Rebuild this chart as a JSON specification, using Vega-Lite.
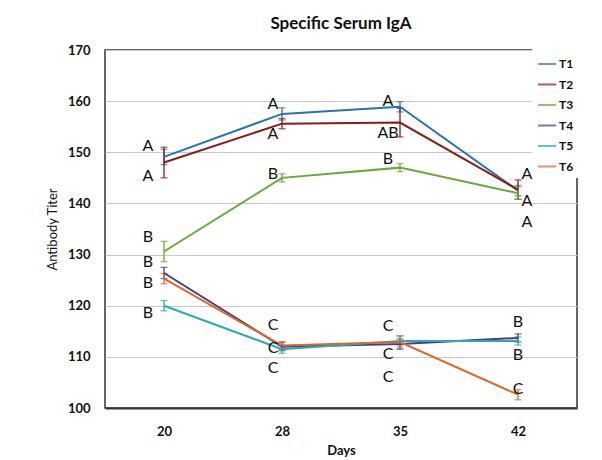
{
  "$schema": "https://vega.github.io/schema/vega-lite/v6.json",
  "autosize": "none",
  "width": 472,
  "height": 358,
  "padding": {"left": 105, "top": 50, "right": 25, "bottom": 52},
  "background": "white",
  "title": {"text": "Specific Serum IgA", "font": "Lato", "fontSize": 17, "fontWeight": "bold", "color": "#111", "anchor": "middle", "offset": 11},
  "config": {
    "view": {"stroke": "#333", "strokeWidth": 1.5},
    "font": "Lato"
  },
  "datasets": {
    "series": [
      {"series": "T1", "day": 20, "value": 149.1, "err": 1.5},
      {"series": "T1", "day": 28, "value": 157.5, "err": 1.2},
      {"series": "T1", "day": 35, "value": 158.9, "err": 1.0},
      {"series": "T1", "day": 42, "value": 142.5, "err": 1.0},
      {"series": "T2", "day": 20, "value": 148.0, "err": 3.0},
      {"series": "T2", "day": 28, "value": 155.6, "err": 1.0},
      {"series": "T2", "day": 35, "value": 155.8, "err": 2.8},
      {"series": "T2", "day": 42, "value": 142.7, "err": 1.9},
      {"series": "T3", "day": 20, "value": 130.6, "err": 2.0},
      {"series": "T3", "day": 28, "value": 145.0, "err": 0.8},
      {"series": "T3", "day": 35, "value": 147.0, "err": 0.8},
      {"series": "T3", "day": 42, "value": 142.0, "err": 1.2},
      {"series": "T4", "day": 20, "value": 126.4, "err": 1.1},
      {"series": "T4", "day": 28, "value": 112.0, "err": 0.8},
      {"series": "T4", "day": 35, "value": 112.5, "err": 1.0},
      {"series": "T4", "day": 42, "value": 113.7, "err": 0.8},
      {"series": "T5", "day": 20, "value": 120.0, "err": 1.0},
      {"series": "T5", "day": 28, "value": 111.5, "err": 0.8},
      {"series": "T5", "day": 35, "value": 113.1, "err": 1.0},
      {"series": "T5", "day": 42, "value": 113.1, "err": 0.8},
      {"series": "T6", "day": 20, "value": 125.3, "err": 1.0},
      {"series": "T6", "day": 28, "value": 112.2, "err": 0.8},
      {"series": "T6", "day": 35, "value": 112.9, "err": 1.2},
      {"series": "T6", "day": 42, "value": 102.6, "err": 1.0}
    ],
    "labels": [
      {"day": 20, "pos": 151.3, "label": "A"},
      {"day": 20, "pos": 145.3, "label": "A"},
      {"day": 20, "pos": 133.5, "label": "B"},
      {"day": 20, "pos": 128.5, "label": "B"},
      {"day": 20, "pos": 124.4, "label": "B"},
      {"day": 20, "pos": 118.5, "label": "B"},
      {"day": 28, "pos": 159.5, "label": "A"},
      {"day": 28, "pos": 153.6, "label": "A"},
      {"day": 28, "pos": 145.8, "label": "B"},
      {"day": 28, "pos": 116.2, "label": "C"},
      {"day": 28, "pos": 111.7, "label": "C"},
      {"day": 28, "pos": 107.8, "label": "C"},
      {"day": 35, "pos": 160.1, "label": "A"},
      {"day": 35, "pos": 153.8, "label": "AB"},
      {"day": 35, "pos": 148.6, "label": "B"},
      {"day": 35, "pos": 116.0, "label": "C"},
      {"day": 35, "pos": 110.5, "label": "C"},
      {"day": 35, "pos": 106.0, "label": "C"},
      {"day": 42, "pos": 145.8, "label": "A"},
      {"day": 42, "pos": 140.4, "label": "A"},
      {"day": 42, "pos": 136.3, "label": "A"},
      {"day": 42, "pos": 116.8, "label": "B"},
      {"day": 42, "pos": 110.4, "label": "B"},
      {"day": 42, "pos": 103.7, "label": "C"}
    ]
  },
  "encoding": {
    "x": {
      "field": "day", "type": "ordinal",
      "scale": {"type": "point", "padding": 0.5, "domain": [20, 28, 35, 42]},
      "axis": {"title": "Days", "labelAngle": 0, "labelFont": "Lato", "labelFontSize": 13, "labelFontWeight": "bold", "labelColor": "#111", "labelPadding": 17, "ticks": false, "domainColor": "#333", "domainWidth": 2, "titleFont": "Lato", "titleFontSize": 13, "titleFontWeight": "bold", "titleColor": "#111", "titlePadding": 6, "grid": false}
    }
  },
  "layer": [
    {
      "data": {"name": "series"},
      "mark": {"type": "errorbar", "ticks": {"size": 7}, "thickness": 1.3},
      "encoding": {
        "y": {"field": "value", "type": "quantitative", "title": "Antibody Titer"},
        "yError": {"field": "err"},
        "color": {"field": "series", "type": "nominal"}
      }
    },
    {
      "data": {"name": "series"},
      "mark": {"type": "line", "strokeWidth": 2},
      "encoding": {
        "y": {
          "field": "value", "type": "quantitative",
          "scale": {"domain": [100, 170], "nice": false, "zero": false},
          "axis": {"title": "Antibody Titer", "values": [100, 110, 120, 130, 140, 150, 160, 170], "labelFont": "Lato", "labelFontSize": 13, "labelFontWeight": "bold", "labelColor": "#111", "labelPadding": 15, "ticks": false, "domain": false, "gridColor": "#c8c8c8", "gridWidth": 1, "titleFont": "Lato", "titleFontSize": 13, "titleFontWeight": "normal", "titleColor": "#111", "titlePadding": 8}
        },
        "color": {
          "field": "series", "type": "nominal",
          "scale": {"domain": ["T1", "T2", "T3", "T4", "T5", "T6"], "range": ["#2874b2", "#8b1a1a", "#6aa83a", "#4a3b82", "#28abb4", "#d8692a"]},
          "legend": {"title": null, "orient": "none", "legendX": 427, "legendY": -1, "symbolType": "stroke", "symbolSize": 324, "symbolStrokeWidth": 2, "labelFont": "Lato", "labelFontSize": 12, "labelFontWeight": "bold", "labelColor": "#111", "labelOffset": 2, "rowPadding": 4.5, "fillColor": "white", "padding": 5}
        }
      }
    },
    {
      "data": {"name": "labels"},
      "transform": [{"filter": "datum.day == 20"}],
      "mark": {"type": "text", "dx": -16, "font": "Lato", "fontSize": 16, "color": "#111", "baseline": "middle"},
      "encoding": {"y": {"field": "pos", "type": "quantitative", "title": "Antibody Titer"}, "text": {"field": "label"}}
    },
    {
      "data": {"name": "labels"},
      "transform": [{"filter": "datum.day == 28"}],
      "mark": {"type": "text", "dx": -9, "font": "Lato", "fontSize": 16, "color": "#111", "baseline": "middle"},
      "encoding": {"y": {"field": "pos", "type": "quantitative", "title": "Antibody Titer"}, "text": {"field": "label"}}
    },
    {
      "data": {"name": "labels"},
      "transform": [{"filter": "datum.day == 35"}],
      "mark": {"type": "text", "dx": -12, "font": "Lato", "fontSize": 16, "color": "#111", "baseline": "middle"},
      "encoding": {"y": {"field": "pos", "type": "quantitative", "title": "Antibody Titer"}, "text": {"field": "label"}}
    },
    {
      "data": {"name": "labels"},
      "transform": [{"filter": "datum.day == 42 && datum.label == 'A'"}],
      "mark": {"type": "text", "dx": 9, "font": "Lato", "fontSize": 16, "color": "#111", "baseline": "middle"},
      "encoding": {"y": {"field": "pos", "type": "quantitative", "title": "Antibody Titer"}, "text": {"field": "label"}}
    },
    {
      "data": {"name": "labels"},
      "transform": [{"filter": "datum.day == 42 && datum.label != 'A'"}],
      "mark": {"type": "text", "dx": 0, "font": "Lato", "fontSize": 16, "color": "#111", "baseline": "middle"},
      "encoding": {"y": {"field": "pos", "type": "quantitative", "title": "Antibody Titer"}, "text": {"field": "label"}}
    }
  ]
}
